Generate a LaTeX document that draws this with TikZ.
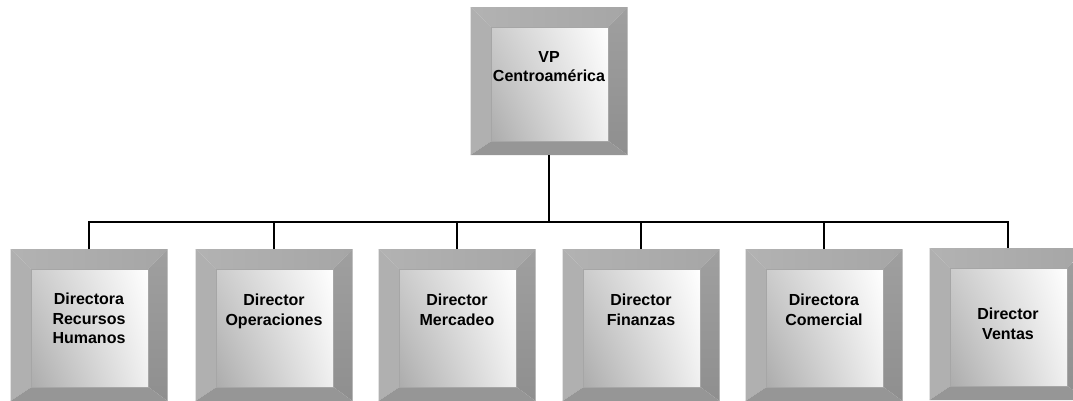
\documentclass[tikz,border=0pt]{standalone}
\usepackage{fontspec}
\setmainfont{Liberation Sans}
\usetikzlibrary{calc,shadings}

\tikzset{
  orgbox/.style={minimum width=157pt,minimum height=152pt,inner sep=0pt,outer sep=0pt},
  lbl/.style={font=\fontsize{16}{19.5}\selectfont\bfseries,align=center,inner sep=0pt,anchor=north},
  link/.style={line width=1.5pt,black},
}

% bevelled frame drawn round an (empty) orgbox node
\newcommand{\bevelfaces}[1]{%
  \coordinate (o1) at (#1.north west);
  \coordinate (o2) at (#1.north east);
  \coordinate (o3) at (#1.south east);
  \coordinate (o4) at (#1.south west);
  \coordinate (i1) at ($(o1)+(21,20)$);
  \coordinate (i2) at ($(o2)+(-19,20)$);
  \coordinate (i3) at ($(o3)+(-19,-14)$);
  \coordinate (i4) at ($(o4)+(21,-14)$);
  \shade[left color=gray!60,right color=gray!70] (o1) -- (o2) -- (i2) -- (i1) -- cycle;
  \fill[gray!62] (o1) -- (i1) -- (i4) -- (o4) -- cycle;
  \shade[top color=gray!75,bottom color=gray!88] (o2) -- (o3) -- (i3) -- (i2) -- cycle;
  \fill[gray!82] (o4) -- (i4) -- (i3) -- (o3) -- cycle;
  \shade[upper left=gray!40,upper right=white,lower left=gray!65,lower right=gray!12]
    (i1) rectangle (i3);
  \draw[gray!70,line width=0.4pt] (i1) rectangle (i3);
}

\begin{document}
\begin{tikzpicture}[x=1pt,y=-1pt]
\useasboundingbox (0,0) rectangle (1073,400);
\clip (0,0) rectangle (1073,400);

% boxes
\node[orgbox,minimum height=148pt] (vp) at (549,81) {};
\bevelfaces{vp}
\node[orgbox] (rrhh) at (89,325) {};
\bevelfaces{rrhh}
\node[orgbox] (oper) at (274,325) {};
\bevelfaces{oper}
\node[orgbox] (merc) at (457,325) {};
\bevelfaces{merc}
\node[orgbox] (fin) at (641,325) {};
\bevelfaces{fin}
\node[orgbox] (com) at (824,325) {};
\bevelfaces{com}
\node[orgbox] (vent) at (1008,324) {};
\bevelfaces{vent}

% labels
\node[lbl] (vp-t) at ($(vp.north)+(0,44)$) {VP\\Centroamérica};
\node[lbl] (rrhh-t) at ($(rrhh.north)+(0,44)$) {Directora\\Recursos\\Humanos};
\node[lbl] (oper-t) at ($(oper.north)+(0,45)$) {Director\\Operaciones};
\node[lbl] (merc-t) at ($(merc.north)+(0,45)$) {Director\\Mercadeo};
\node[lbl] (fin-t) at ($(fin.north)+(0,45)$) {Director\\Finanzas};
\node[lbl] (com-t) at ($(com.north)+(0,45)$) {Directora\\Comercial};
\node[lbl] (vent-t) at ($(vent.north)+(0,60)$) {Director\\Ventas};

% connectors
\coordinate (bus) at (549,222);
\draw[link] (vp.south) -- (bus);
\draw[link] (rrhh.north) |- (bus -| vent.north) -- (vent.north);
\foreach \c in {oper,merc,fin,com}
  \draw[link] (\c.north) -- (\c.north |- bus);
\end{tikzpicture}
\end{document}
